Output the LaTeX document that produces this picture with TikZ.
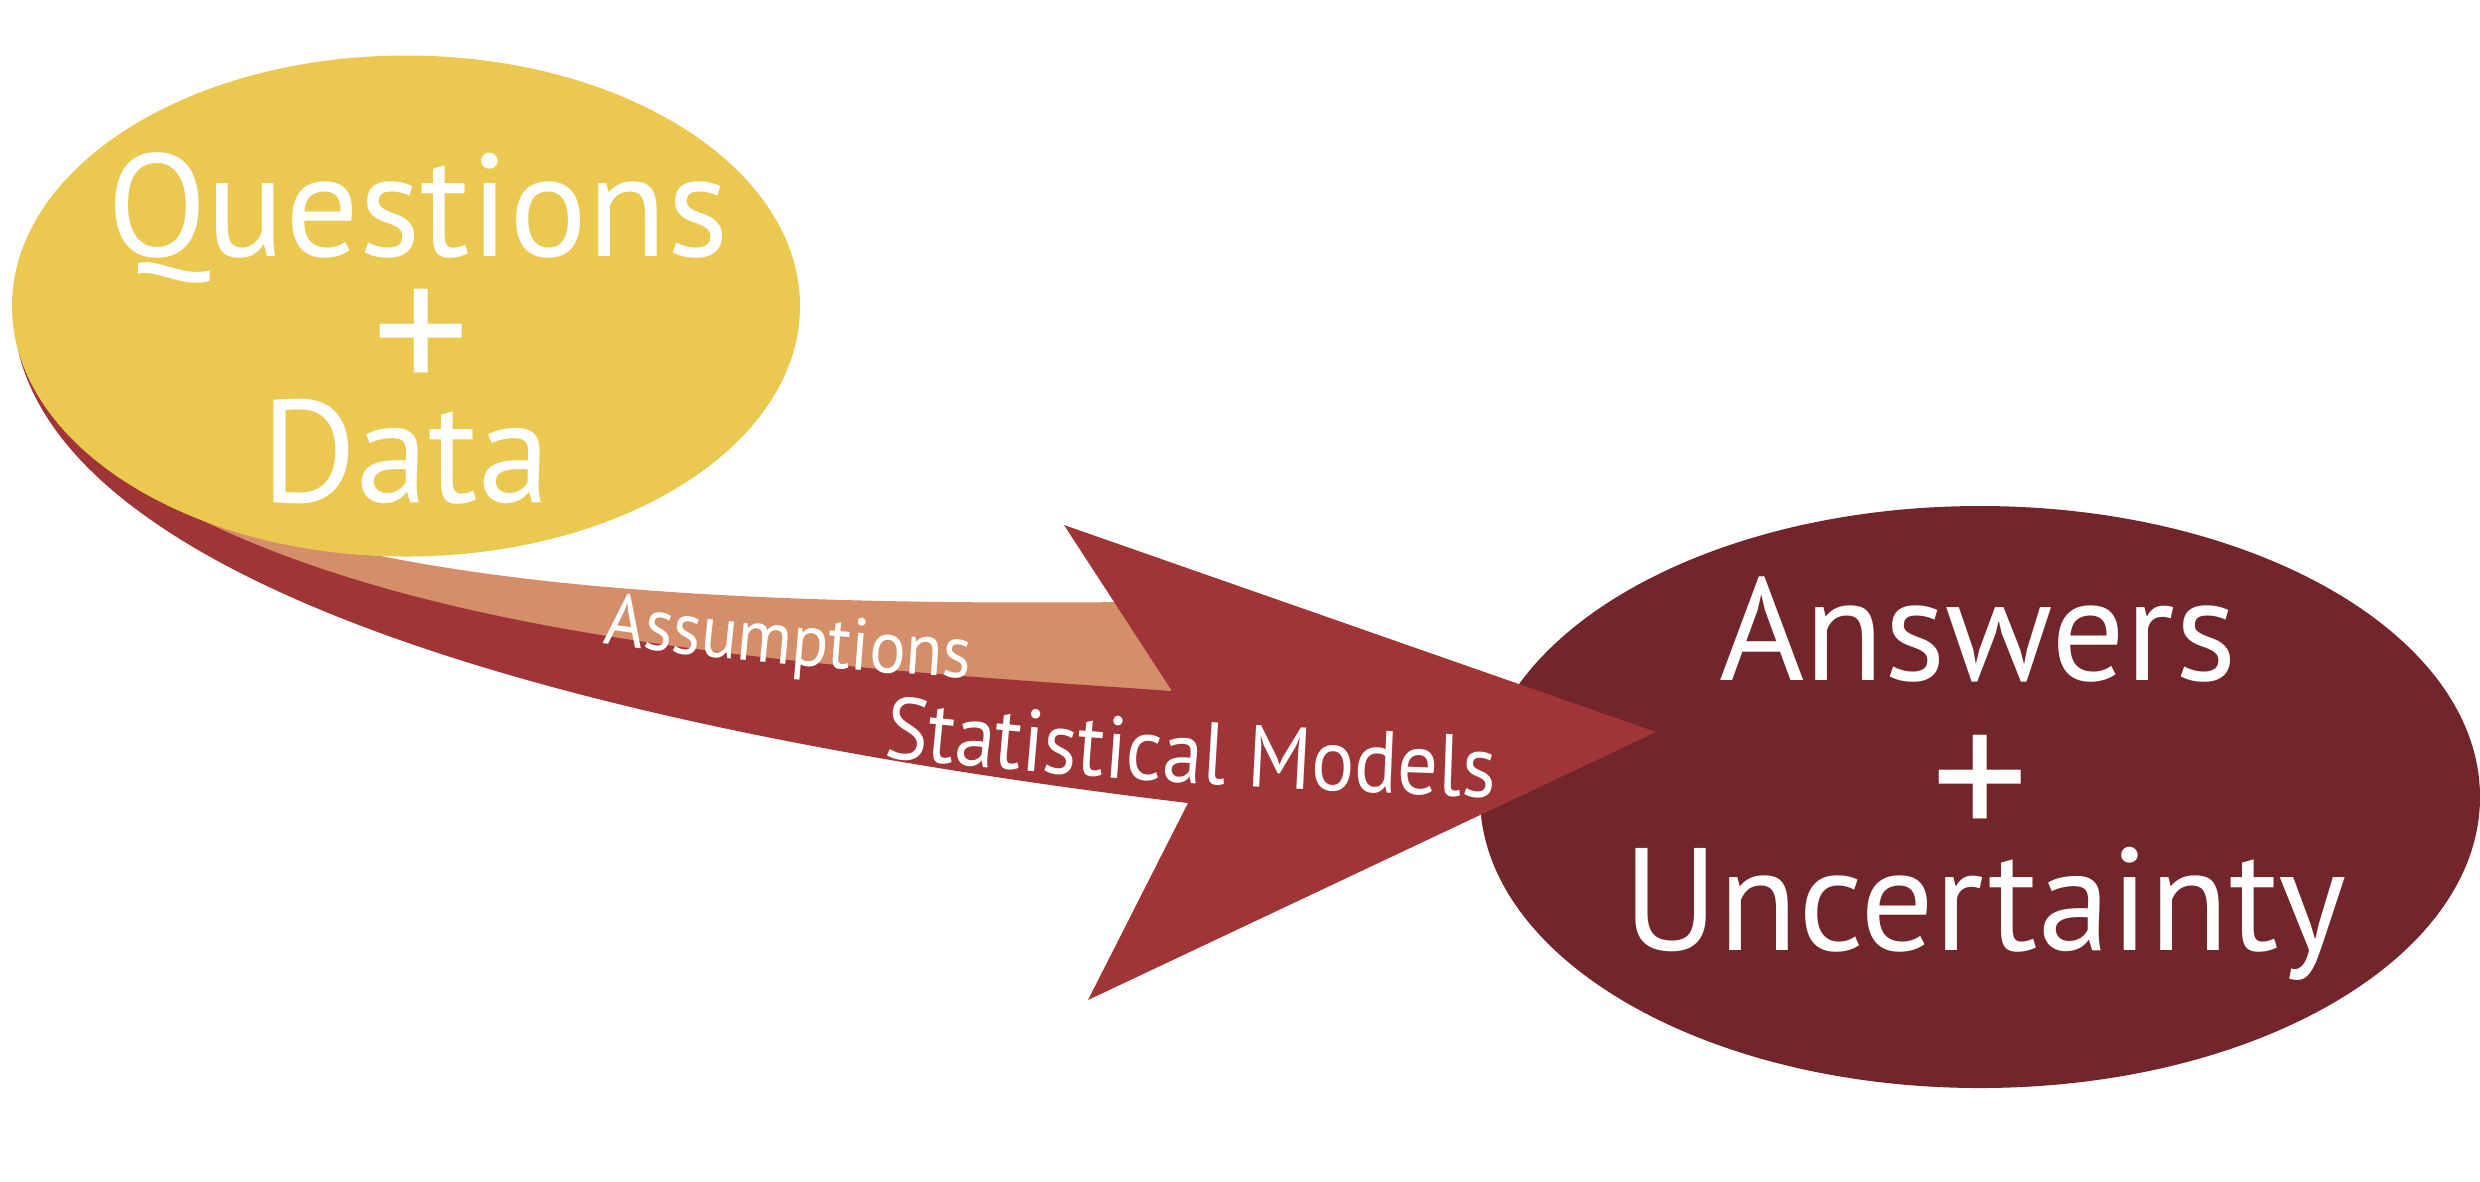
\documentclass[tikz,border=0pt]{standalone}
\usepackage{fontspec}
\setmainfont{PT Sans}
\newfontfamily\bandfont[FakeStretch=0.92]{PT Sans}
\usetikzlibrary{shapes.geometric,decorations.text}
\definecolor{qyellow}{HTML}{EBC950}
\definecolor{borange}{HTML}{D48F6A}
\definecolor{bred}{HTML}{A03538}
\definecolor{adark}{HTML}{72262C}
\begin{document}
\begin{tikzpicture}[x=0.1mm,y=-0.1mm,
  bigtext/.style={text=white, font=\fontsize{41.5}{41.5}\selectfont, inner sep=0pt},
  plustext/.style={text=white, font=\fontsize{55}{55}\selectfont, inner sep=0pt, anchor=base},
  blob/.style={ellipse, inner sep=0pt, draw=none}]
\useasboundingbox (0,0) rectangle (2480,1181);
% answers ellipse
\node[blob, fill=adark, minimum width=100mm, minimum height=58.2mm] (au) at (1980,797) {};
% orange band (assumptions)
\fill[borange] (230,515) .. controls (450,595) and (800,605) .. (1130,602)
  -- (1180,700) -- (700,700) -- (300,580) -- (120,470) -- cycle;
% red band with arrowhead (statistical models)
\fill[bred] (13,306) .. controls (13,560) and (500,720) .. (1188,803)
  -- (1088,1000) -- (1656,732) -- (1064,525) -- (1172,691)
  .. controls (800,665) and (350,640) .. (100,460)
  -- (60,400) -- cycle;
% questions ellipse
\node[blob, fill=qyellow, minimum width=78.8mm, minimum height=50.1mm] (qd) at (406,306) {};
% texts
\node[bigtext, anchor=base, text depth=0pt] (q1) at (418,256) {Questions};
\node[plustext] (q2) at (421,396) {+};
\node[bigtext, anchor=base] (q3) at (406,502) {Data};
\node[bigtext, anchor=base, text depth=0pt] (a1) at (1978,680) {Answers};
\node[plustext] (a2) at (1980,842) {+};
\node[bigtext, anchor=base] (a3) at (1985,950) {Uncertainty};
\path[decorate, decoration={text along path, text color=white,
  text={|\bandfont\fontsize{21}{21}\selectfont|Assumptions}}]
  (603,643) .. controls (720,660) and (840,670) .. (1000,680);
\path[decorate, decoration={text along path, text color=white,
  text={|\bandfont\fontsize{25}{25}\selectfont|Statistical Models}}]
  (883,757) .. controls (1090,779) and (1300,793) .. (1600,800);
\end{tikzpicture}
\end{document}
